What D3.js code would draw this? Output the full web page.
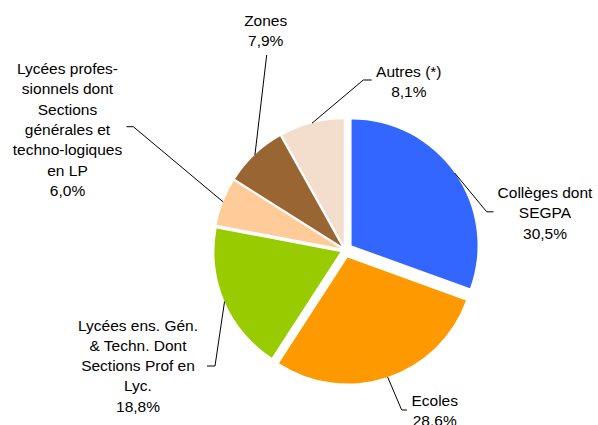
<!DOCTYPE html>
<html>
<head>
<meta charset="utf-8">
<script src="https://cdn.jsdelivr.net/npm/d3@7"></script>
<style>
  html, body { margin: 0; padding: 0; background: #fff; }
  svg { display: block; }
  text { font-family: "Liberation Sans", Arial, sans-serif; font-size: 15.5px; fill: #000; }
</style>
</head>
<body>
<svg id="chart" width="598" height="425"></svg>
<script>
// Sectors, in clockwise order from 12 o'clock
const categories = [
  "Collèges dont SEGPA",
  "Ecoles",
  "Lycées ens. Gén. & Techn. Dont Sections Prof en Lyc.",
  "Lycées professionnels dont Sections générales et techno-logiques en LP",
  "Zones",
  "Autres (*)"
];
// Label text broken into lines as printed next to each sector
const labelLines = [
  ["Collèges dont", "SEGPA"],
  ["Ecoles"],
  ["Lycées ens. Gén.", "& Techn. Dont", "Sections Prof en", "Lyc."],
  ["Lycées profes-", "sionnels dont", "Sections", "générales et", "techno-logiques", "en LP"],
  ["Zones"],
  ["Autres (*)"]
];
// Share of each sector, in percent
const shares = [30.5, 28.6, 18.8, 6.0, 7.9, 8.1];

const colors = ["#3366FF", "#FF9900", "#99CC00", "#FFCC99", "#996633", "#F3DDCD"];

// Geometry of the pie and of each label block
const cx = 345, cy = 250, radius = 126;
const explode = [8, 8, 5, 5, 5, 5];
const labelLayout = [
  { knee: [486.7, 211.8], end: [493.5, 211.8], x: 545,   y: 198   },
  { knee: [401.7, 410],   end: [407,   410],   x: 434.7, y: 405.5 },
  { knee: [215,   366],   end: [207,   366],   x: 138,   y: 330.5 },
  { knee: [133.3, 126.7], end: [126.5, 126.7], x: 67.5,  y: 74    },
  { knee: [266.7, 55],    end: [266.7, 55],    x: 265.7, y: 25.5  },
  { knee: [363.3, 80],    end: [371.7, 80],    x: 408.8, y: 76.5  }
];
const lineHeight = 20.3;

const fmt = v => d3.format(".1f")(v).replace(".", ",") + "%";

const svg = d3.select("#chart");
const g = svg.append("g").attr("transform", `translate(${cx},${cy})`);

const pie = d3.pie().sort(null).value(d => d.value);
const arcs = pie(shares.map((v, i) => ({ value: v, i })));
const arc = d3.arc().innerRadius(0).outerRadius(radius);

const offsetOf = d => {
  const mid = (d.startAngle + d.endAngle) / 2;
  const e = explode[d.data.i];
  return [e * Math.sin(mid), -e * Math.cos(mid)];
};

g.selectAll("path.slice")
  .data(arcs)
  .join("path")
  .attr("class", "slice")
  .attr("transform", d => { const o = offsetOf(d); return `translate(${o[0]},${o[1]})`; })
  .attr("d", arc)
  .attr("fill", d => colors[d.data.i]);

// Leader lines from each sector's outer edge to its label
const leader = d3.line();
svg.selectAll("path.leader")
  .data(arcs)
  .join("path")
  .attr("class", "leader")
  .attr("fill", "none")
  .attr("stroke", "#000")
  .attr("stroke-width", 1)
  .attr("d", d => {
    const mid = (d.startAngle + d.endAngle) / 2;
    const o = offsetOf(d);
    const start = [cx + o[0] + radius * Math.sin(mid), cy + o[1] - radius * Math.cos(mid)];
    const L = labelLayout[d.data.i];
    return leader([start, L.knee, L.end]);
  });

// Labels: category lines followed by the share
const labels = svg.selectAll("text.label")
  .data(arcs)
  .join("text")
  .attr("class", "label")
  .attr("text-anchor", "middle");

labels.each(function(d) {
  const L = labelLayout[d.data.i];
  const lines = labelLines[d.data.i].concat([fmt(d.data.value)]);
  d3.select(this).selectAll("tspan")
    .data(lines)
    .join("tspan")
    .attr("x", L.x)
    .attr("y", (t, k) => L.y + k * lineHeight)
    .text(t => t);
});
</script>
</body>
</html>
